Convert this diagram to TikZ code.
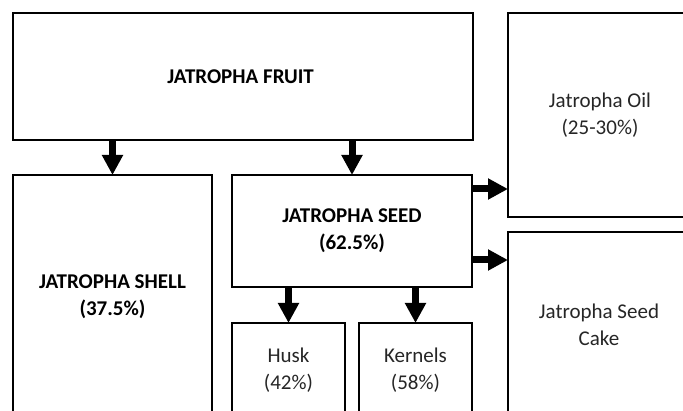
\documentclass[tikz,border=0pt]{standalone}
\usepackage{fontspec}
\setmainfont{Carlito}
\usetikzlibrary{arrows.meta, positioning}

\begin{document}
\begin{tikzpicture}[
    x=1pt, y=-1pt,
    % --- Box Styles ---
    partBox/.style={
        rectangle,
        draw=black,
        line width=2.6pt,
        outer sep=0pt,
        align=center,
        font=\fontsize{21}{27}\selectfont
    },
    mainPart/.style={partBox, font=\bfseries\fontsize{21}{27}\selectfont},
    subPart/.style={partBox, text=black!85},
    flow/.style={-{Triangle[length=20pt,width=20pt]}, line width=7pt, draw=black}
]

    % --- Frame of the picture ---
    \useasboundingbox (0,0) rectangle (683,411);
    \fill[white] (0,0) rectangle (683,411);
    \clip (0,0) rectangle (683,411);

    % --- TOP ROW ---
    % 1. Fruit (Top Left)
    \node (fruit) [mainPart, minimum width=460pt, minimum height=127pt, anchor=north west] at (13,13) {
        JATROPHA FRUIT
    };

    % 2. Oil (Right of 1)
    \node (oil) [subPart, minimum width=184pt, minimum height=204pt, below right=0pt and 35pt of fruit.north east] {
        Jatropha Oil \\
        (25-30\%)
    };

    % --- SECOND ROW ---
    % 3. Shell (Below 1)
    \node (shell) [mainPart, minimum width=199pt, minimum height=243pt, below right=35pt and 0pt of fruit.south west] {
        JATROPHA SHELL \\
        (37.5\%)
    };

    % 4. Seed (Right of 3)
    \node (seed) [mainPart, minimum width=240pt, minimum height=112pt, below right=0pt and 20pt of shell.north east] {
        JATROPHA SEED \\
        (62.5\%)
    };

    % 5. Cake (Below 2)
    \node (cake) [subPart, minimum width=182pt, minimum height=186pt, below right=15pt and 0pt of oil.south west] {
        Jatropha Seed \\
        Cake
    };

    % --- BOTTOM ROW ---
    % 6. Husk (Below 4, left)
    \node (husk) [subPart, minimum width=113pt, minimum height=95pt, below right=36pt and 0pt of seed.south west] {
        Husk \\
        (42\%)
    };

    % 7. Kernels (Below 4, right)
    \node (kernels) [subPart, minimum width=113pt, minimum height=95pt, below left=36pt and 0pt of seed.south east] {
        Kernels \\
        (58\%)
    };

    % --- Arrows ---
    \draw [flow] (fruit.south -| shell.north) -- (shell.north);
    \draw [flow] (fruit.south -| seed.north) -- (seed.north);
    \draw [flow] ([yshift=-14pt]seed.north east) -- ([yshift=-14pt]seed.north east -| oil.west);
    \draw [flow] ([yshift=27pt]seed.south east) -- ([yshift=27pt]seed.south east -| cake.west);
    \draw [flow] (seed.south -| husk.north) -- (husk.north);
    \draw [flow] (seed.south -| kernels.north) -- (kernels.north);

\end{tikzpicture}
\end{document}
